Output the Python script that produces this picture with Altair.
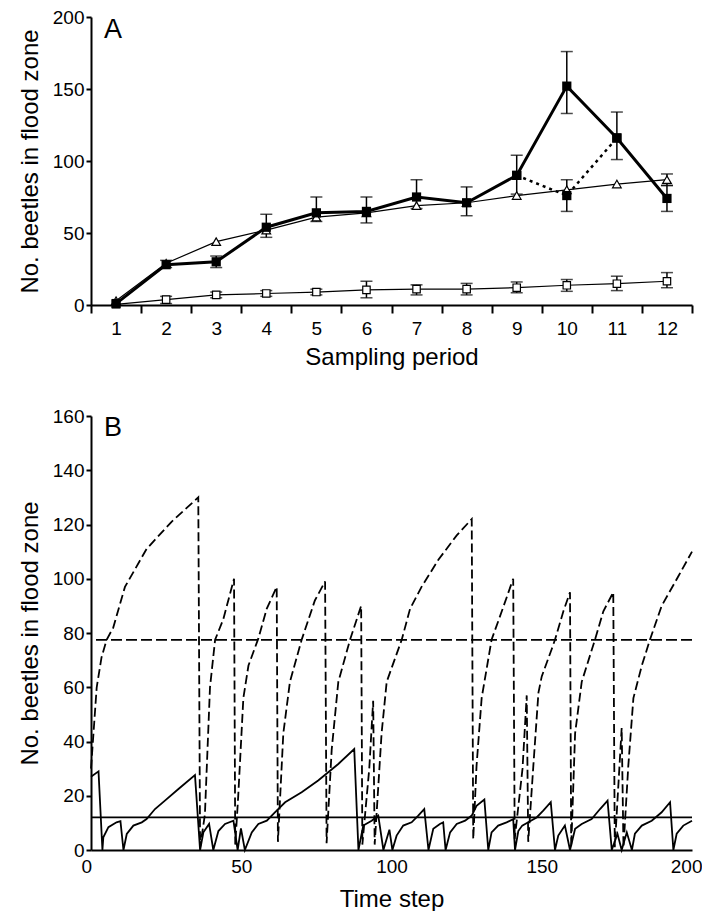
import altair as alt
import pandas as pd

FONT = "Liberation Sans"

# ---------------- Panel A data ----------------
periods = list(range(1, 13))
flood_mean = [1, 28, 30, 54, 64, 65, 75, 71, 90, 152, 116, 74]
flood_low = [None, 26, 26, 47, 58, 57, 67, 62, 77, 133, 101, 65]
flood_high = [None, 31, 34, 63, 75, 75, 87, 82, 104, 176, 134, 83]

alt_periods = [9, 10, 11]
alt_mean = [90, 76, 116]
alt_low = [None, 65, None]
alt_high = [None, 87, None]

tri_mean = [3, 29, 44, 52, 61, 64, 69, 71, 76, 80, 84, 87]
tri_low = [None, None, None, None, None, None, None, None, None, None, None, 83]
tri_high = [None, None, None, None, None, None, None, None, None, None, None, 91]

ctrl_mean = [0.5, 3.7, 7, 8, 9, 10.5, 11, 11, 12, 13.7, 14.8, 16.5]
ctrl_low = [None, 1, 5, 6, 7, 5, 7, 7, 8.5, 9.5, 10, 12]
ctrl_high = [None, 6, 9, 10, 11, 16.5, 14, 15, 16, 17.7, 20, 22.5]

# ---------------- Panel B data ----------------
dash_t = [0, 1.9, 3.5, 5.2, 7.4, 11.3, 18.5, 26.8, 35.7, 36.3,
          37.9, 39.6, 41.3, 44.0, 47.6, 48.0,
          49.0, 50.7, 52.4, 55.7, 58.5, 61.8, 62.2,
          64.0, 66.2, 70.1, 74.5, 77.9, 78.4,
          80.1, 82.3, 86.2, 89.9, 90.3,
          92.6, 93.9, 94.4,
          96.7, 98.4, 100, 103.4, 106.2, 110, 115.6, 121.7, 126.7, 127.2,
          128.3, 130, 133.3, 136.7, 140.5, 141.0,
          143.6, 145, 145.5,
          147.2, 148.9, 150, 153.3, 154.4, 157.2, 159.4, 159.8,
          161.1, 163.3, 167.7, 170.5, 173.8, 174.3,
          176.6, 177.2,
          178.8, 180.5, 183.3, 186, 189.9, 195.5, 200]
dash_v = [30, 60, 71, 77.5, 82, 97, 111, 121, 130, 1,
          13, 60, 77.5, 85, 100, 2,
          20, 56, 68, 78, 89, 97, 3,
          43, 62, 77.5, 92, 99, 2.5,
          37, 62, 77.5, 90, 2,
          30, 55, 2,
          43, 62, 67, 77.5, 89, 97, 107, 116, 122, 4,
          31, 56, 77.5, 88, 100, 4,
          30, 57, 3,
          31, 58, 64, 74, 77.5, 88, 95, 1,
          43, 62, 77.5, 88, 95, 1,
          45, 1,
          31, 56, 68, 77.5, 90, 101, 110]

solid_t = [0, 2.5, 3.8, 4.1, 5.8, 8.5, 9.8, 10.8,
           11.9, 14.1, 16.9, 18.5, 21.3, 24.6, 29.1, 34.6, 36.3,
           37.4, 39.3, 40.7,
           42.4, 44.6, 47.4, 48.8,
           49.9, 51.2,
           53.5, 55.7, 58.5, 61.2, 64.6, 70.1, 75.6, 82.3, 87.6, 89,
           90.6, 93.4, 95.6, 97.3,
           99.3, 100.3,
           101.7, 103.9, 106.7, 108.9, 110.9, 112.3,
           113.9, 116.1, 117.2, 118,
           119.5, 121.7, 124.5, 126.7, 128.3, 130.9, 132.2,
           133.3, 135.5, 138.3, 140.5, 141.1,
           142.2, 143.5, 145.5, 148.3, 150.5, 153, 154.4,
           155.5, 157.7, 159.4,
           161.1, 163.3, 166.6, 169.4, 171.9, 173.3,
           175.2, 176.6, 178.3, 180,
           181, 183.3, 186.6, 189.9, 192.7, 193.8,
           194.9, 197.1, 200]
solid_v = [27, 29, 0, 4.7, 8.4, 10.2, 10.6, 0,
           5.9, 9, 10.2, 11.4, 15.1, 18.2, 22.5, 27.6, 0,
           6.5, 9.6, 0,
           7, 9.6, 10.8, 0,
           8, 0,
           6.5, 9.6, 10.8, 13.9, 17.6, 21.3, 25.6, 31.7, 37.2, 0,
           9, 10.8, 12.7, 0,
           7.5, 0,
           5.3, 9, 10.2, 12.7, 15.1, 0,
           7.8, 9.6, 10.2, 0,
           6.5, 9.6, 10.8, 12.7, 16.3, 18.6, 0,
           6.5, 9, 10.2, 11.4, 0,
           7, 9, 10.2, 12, 14.5, 17.6, 0,
           5.3, 9, 0,
           7.8, 9.6, 11.4, 15.1, 18.2, 0,
           6, 0, 6.5, 0,
           6, 9, 10.8, 13.9, 17.6, 0,
           6, 9, 10.8]

mean_levels = [77.5, 12]

# ---------------- Build tables ----------------
def series(p, m, lo, hi):
    return pd.DataFrame({"period": p, "value": m, "low": lo, "high": hi})

flood = series(periods, flood_mean, flood_low, flood_high)
altd = series(alt_periods, alt_mean, alt_low, alt_high)
tri = series(periods, tri_mean, tri_low, tri_high)
ctrl = series(periods, ctrl_mean, ctrl_low, ctrl_high)
bars = pd.concat([flood, altd, tri, ctrl]).dropna(subset=["low", "high"])

X = alt.X("period:O",
          scale=alt.Scale(type="band", paddingInner=0, paddingOuter=0),
          axis=alt.Axis(title="Sampling period", labelAngle=0, tickBand="extent",
                        tickSize=8, labelPadding=6, titlePadding=7),
          )
YA = alt.Y("value:Q", scale=alt.Scale(domain=[0, 200], nice=False),
           axis=alt.Axis(title="No. beetles in flood zone", values=[0, 50, 100, 150, 200],
                         tickSize=5, titlePadding=10))

base_err = alt.Chart(bars)
err_rule = base_err.mark_rule(color="black", strokeWidth=1.5).encode(
    x=X, y=alt.Y("low:Q"), y2="high:Q")
cap_lo = base_err.mark_tick(color="black", size=12, thickness=1.5).encode(x=X, y=alt.Y("low:Q"))
cap_hi = base_err.mark_tick(color="black", size=12, thickness=1.5).encode(x=X, y=alt.Y("high:Q"))

ctrl_line = alt.Chart(ctrl).mark_line(color="black", strokeWidth=1.2).encode(x=X, y=YA)
tri_line = alt.Chart(tri).mark_line(color="black", strokeWidth=1.2).encode(x=X, y=YA)
alt_line = alt.Chart(altd).mark_line(color="black", strokeWidth=2.5, strokeDash=[3, 4]).encode(x=X, y=YA)
flood_line = alt.Chart(flood).mark_line(color="black", strokeWidth=3).encode(x=X, y=YA)

ctrl_pts = alt.Chart(ctrl).mark_point(shape="square", filled=True, fill="white", stroke="black",
                                      strokeWidth=1.2, size=55, opacity=1).encode(x=X, y=YA)
tri_pts = alt.Chart(tri).mark_point(shape="triangle-up", filled=True, fill="white", stroke="black",
                                    strokeWidth=1.2, size=75, opacity=1).encode(x=X, y=YA)
alt_pts = alt.Chart(altd).mark_point(shape="square", filled=True, color="black", size=85,
                                     opacity=1).encode(x=X, y=YA)
flood_pts = alt.Chart(flood).mark_point(shape="square", filled=True, color="black", size=85,
                                        opacity=1).encode(x=X, y=YA)

label_a = alt.Chart(pd.DataFrame({"t": ["A"]})).mark_text(
    font=FONT, fontSize=27, align="left", baseline="middle", color="black").encode(
    x=alt.value(13), y=alt.value(13), text="t:N")

panel_a = alt.layer(err_rule, cap_lo, cap_hi, ctrl_line, tri_line, alt_line, flood_line,
                    ctrl_pts, tri_pts, alt_pts, flood_pts, label_a).properties(width=601, height=288)

# ---------------- Panel B ----------------
dash_df = pd.DataFrame({"t": dash_t, "v": dash_v})
solid_df = pd.DataFrame({"t": solid_t, "v": solid_v})
lev_dash = pd.DataFrame({"v": [mean_levels[0]]})
lev_solid = pd.DataFrame({"v": [mean_levels[1]]})

XB = alt.X("t:Q", scale=alt.Scale(domain=[0, 200], nice=False),
           axis=alt.Axis(title="Time step", values=[0, 50, 100, 150, 200], ticks=False,
                         labelFlush=True, labelFlushOffset=10, labelPadding=7, titlePadding=11))
YB = alt.Y("v:Q", scale=alt.Scale(domain=[0, 160], nice=False),
           axis=alt.Axis(title="No. beetles in flood zone", values=list(range(0, 161, 20)),
                         tickSize=5, titlePadding=10))

dash_line = alt.Chart(dash_df).mark_line(color="black", strokeWidth=1.8, strokeDash=[9, 4]).encode(x=XB, y=YB)
solid_line = alt.Chart(solid_df).mark_line(color="black", strokeWidth=1.8).encode(x=XB, y=YB)
rule_dash = alt.Chart(lev_dash).mark_rule(color="black", strokeWidth=1.8, strokeDash=[11, 4]).encode(y=YB)
rule_solid = alt.Chart(lev_solid).mark_rule(color="black", strokeWidth=1.8).encode(y=YB)
label_b = alt.Chart(pd.DataFrame({"t": ["B"]})).mark_text(
    font=FONT, fontSize=27, align="left", baseline="middle", color="black").encode(
    x=alt.value(13), y=alt.value(12), text="t:N")

panel_b = alt.layer(rule_dash, rule_solid, dash_line, solid_line, label_b).properties(width=601, height=434)

chart = alt.vconcat(panel_a, panel_b, spacing=38).properties(
    padding={"left": 10, "top": 0, "right": 0, "bottom": 0}
).configure_view(stroke=None).configure_axis(
    labelFont=FONT, titleFont=FONT, labelFontSize=19, titleFontSize=24,
    labelColor="black", titleColor="black", domainColor="black", tickColor="black",
    domainWidth=2, tickWidth=2, grid=False, titleFontWeight="normal"
)

chart.save("out.html", embed_options={"renderer": "svg", "actions": False})
